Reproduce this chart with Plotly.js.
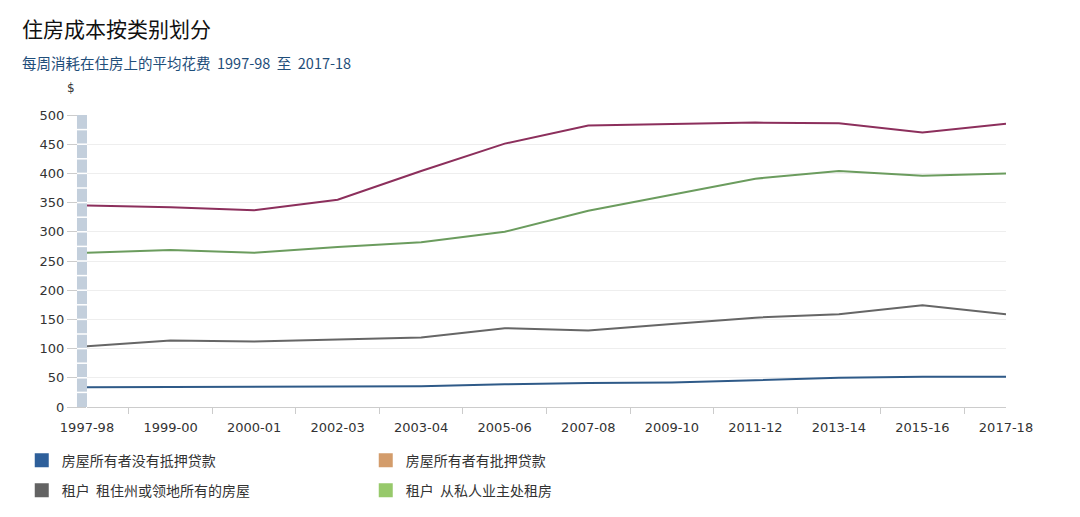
<!DOCTYPE html>
<html>
<head>
<meta charset="utf-8">
<script src="https://cdn.plot.ly/plotly-3.0.1.min.js"></script>
<style>
  html, body { margin: 0; padding: 0; background: #fff; }
  #chart { width: 1080px; height: 517px; }
</style>
</head>
<body>
<div id="chart"></div>
<script>
// years on the x axis
var years = ["1997-98", "1999-00", "2000-01", "2002-03", "2003-04", "2005-06",
             "2007-08", "2009-10", "2011-12", "2013-14", "2015-16", "2017-18"];

// weekly housing cost, $
var ownerNoMortgage = [34, 34, 34.5, 35, 35.5, 39, 41, 42, 46, 50, 52, 52];
var ownerMortgage   = [345, 342, 337, 355, 404, 451, 482, 485, 487, 486, 470, 485];
var renterPublic    = [104, 114, 112, 116, 119, 135, 131, 142, 153, 159, 174, 159];
var renterPrivate   = [264, 269, 264, 274, 282, 300, 336, 364, 391, 404, 396, 400];

var names = ["房屋所有者没有抵押贷款", "房屋所有者有批押贷款",
             "租户\u00a0\u00a0租住州或领地所有的房屋", "租户\u00a0\u00a0从私人业主处租房"];

var lineColors   = ["#2f5a88", "#8c2f5c", "#666666", "#6b9c5e"];
var legendColors = ["#2e5f9a", "#d39c6b", "#636363", "#97c96b"];
// two rows of the legend, two entries each
var legendRow = ["legend", "legend", "legend2", "legend2"];

var series = [ownerNoMortgage, ownerMortgage, renterPublic, renterPrivate];

var data = [];
series.forEach(function (vals, i) {
  data.push({
    x: years,
    y: vals,
    mode: "lines",
    name: names[i],
    line: {color: lineColors[i], width: 2},
    showlegend: false,
    hoverinfo: "x+y"
  });
});
// legend entries (square swatches like the original)
names.forEach(function (n, i) {
  data.push({
    x: [null],
    y: [null],
    mode: "markers",
    name: n,
    legend: legendRow[i],
    marker: {symbol: "square", size: 14, color: legendColors[i]},
    showlegend: true,
    hoverinfo: "skip"
  });
});

// segmented grey-blue strip left of the plot
var shapes = [{
  type: "rect", xref: "paper", yref: "y", layer: "above",
  x0: -0.0109, x1: 0, y0: 0, y1: 500,
  fillcolor: "#c3cfdc", line: {width: 0}
}];
for (var v = 25; v < 500; v += 25) {
  shapes.push({
    type: "line", xref: "paper", yref: "y", layer: "above",
    x0: -0.0109, x1: 0, y0: v, y1: v,
    line: {color: "#ffffff", width: 1.5}
  });
}

function legendRowStyle(yPos) {
  return {
    orientation: "h",
    x: -0.071,
    xanchor: "left",
    y: yPos,
    yanchor: "middle",
    entrywidthmode: "pixels",
    entrywidth: 299,
    font: {family: "Noto Sans CJK SC, sans-serif", size: 14, color: "#333333"},
    traceorder: "normal"
  };
}

var layout = {
  width: 1080,
  height: 517,
  margin: {l: 87, r: 74, t: 115, b: 109},
  paper_bgcolor: "#ffffff",
  plot_bgcolor: "#ffffff",
  font: {family: "DejaVu Sans, Verdana, sans-serif", color: "#333333", size: 12},
  xaxis: {
    type: "category",
    range: [0, 11],
    showgrid: false,
    showline: true,
    linecolor: "#cccccc",
    linewidth: 1,
    ticks: "outside",
    tickson: "boundaries",
    ticklen: 6,
    tickcolor: "#cccccc",
    ticklabelstandoff: 8,
    tickfont: {size: 13, color: "#333333"},
    zeroline: false,
    fixedrange: true
  },
  yaxis: {
    range: [0, 500],
    dtick: 50,
    showgrid: true,
    gridcolor: "#eeeeee",
    zeroline: false,
    showline: false,
    ticks: "outside",
    ticklen: 19,
    tickcolor: "#cccccc",
    tickfont: {size: 13, color: "#333333"},
    fixedrange: true
  },
  shapes: shapes,
  legend: legendRowStyle(-0.18),
  legend2: legendRowStyle(-0.282),
  annotations: [
    {
      text: "住房成本按类别划分", xref: "paper", yref: "paper",
      x: -0.073, y: 1.297, xanchor: "left", yanchor: "middle", showarrow: false,
      font: {family: "Noto Sans CJK SC, sans-serif", size: 21, color: "#111111"}
    },
    {
      text: "每周消耗在住房上的平均花费\u00a0\u00a01997-98\u00a0\u00a0至\u00a0\u00a02017-18",
      xref: "paper", yref: "paper",
      x: -0.073, y: 1.181, xanchor: "left", yanchor: "middle", showarrow: false,
      font: {family: "Noto Sans CJK SC, sans-serif", size: 14.5, color: "#1f4e7a"}
    },
    {
      text: "$", xref: "paper", yref: "paper",
      x: -0.017, y: 1.092, xanchor: "center", yanchor: "middle", showarrow: false,
      font: {size: 12, color: "#333333"}
    }
  ]
};

Plotly.newPlot("chart", data, layout, {displayModeBar: false, staticPlot: true});
</script>
</body>
</html>
